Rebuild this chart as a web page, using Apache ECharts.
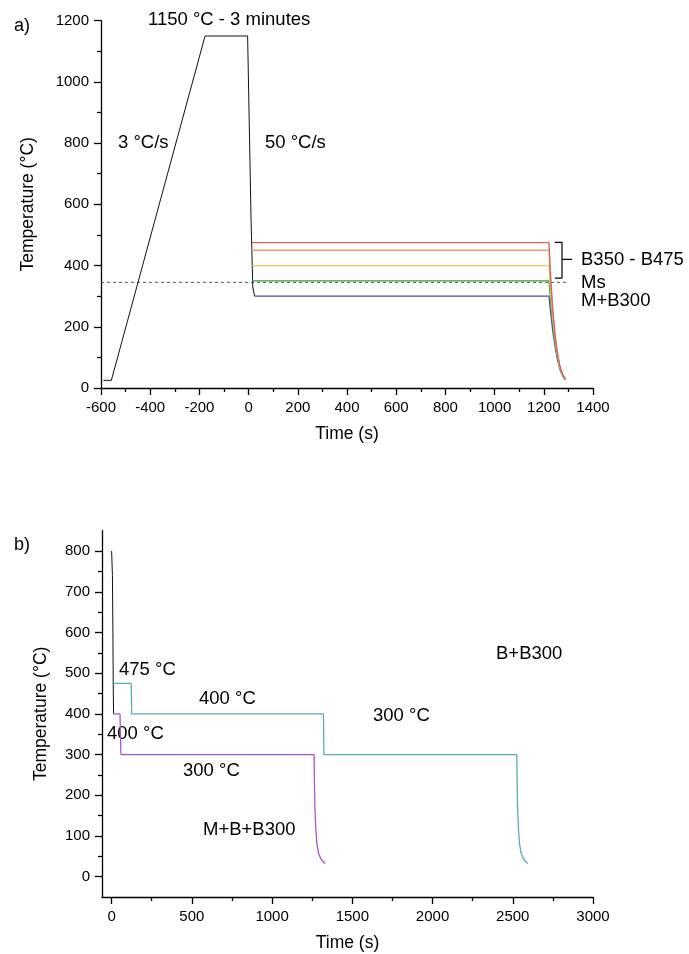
<!DOCTYPE html>
<html><head><meta charset="utf-8">
<script src="https://cdn.jsdelivr.net/npm/echarts@6/dist/echarts.min.js"></script>
<style>html,body{margin:0;padding:0;background:#fff}#c{width:689px;height:954px}</style>
</head><body><div id="c"></div>
<script>
// ---------- Panel a) data ----------
const aBlackT = [-590, -558, -177, -4, 10, 17, 24];
const aBlackV = [25, 25, 1150, 1150, 550, 330, 300];
const aNames = ['B300', 'B350', 'B400', 'B450', 'B475'];
const aColors = ['#4a4ab8', '#3a9a3a', '#d8d44a', '#e2a672', '#d46060'];
const aHoldStart = [24, 15, 14, 12, 12];
const aHoldEnd = 1221;
const aCoolT = [1228, 1236, 1245, 1255, 1266, 1278, 1288];
const aCoolB300 = [245, 190, 140, 95, 60, 38, 27];
const aCoolB350 = [280, 210, 150, 100, 63, 39, 27];
const aCoolB400 = [310, 230, 165, 108, 66, 40, 28];
const aCoolB450 = [345, 250, 175, 112, 68, 41, 28];
const aCoolB475 = [360, 260, 180, 115, 70, 42, 28];
const aHoldV = [300, 350, 400, 450, 475];
const aCool = [aCoolB300, aCoolB350, aCoolB400, aCoolB450, aCoolB475];
const aMsT = [-600, 1302];
const aMsV = [345, 345];
const aBracketT = [1245, 1274, 1274, 1245];
const aBracketV = [476, 476, 359, 359];
const aBracketMidT = [1274, 1315];
const aBracketMidV = [420, 420];

// ---------- Panel b) data ----------
const bBlackT = [0, 5, 8, 10, 12];
const bBlackV = [800, 740, 600, 475, 400];
const bTealT = [5, 122, 125, 1320, 1323, 2525, 2527, 2530, 2535, 2542, 2552, 2565, 2580, 2594];
const bTealV = [475, 475, 400, 400, 300, 300, 230, 170, 120, 81, 58, 45, 37, 32];
const bPurpleT = [10, 52, 58, 1262, 1264, 1267, 1272, 1279, 1289, 1302, 1317, 1331];
const bPurpleV = [400, 400, 300, 300, 230, 170, 120, 81, 58, 45, 37, 32];
const bXTicks = [0, 500, 1000, 1500, 2000, 2500, 3000];
const bXMinor = [250, 750, 1250, 1750, 2250, 2750];
const bYTicks = [0, 100, 200, 300, 400, 500, 600, 700, 800];
const bYMinor = [50, 150, 250, 350, 450, 550, 650, 750];

const FONT = '"Liberation Sans", Arial, sans-serif';
const zip = (t, v) => t.map((x, i) => [x, v[i]]);
const LS = {color: '#000', width: 1.3};
const plain = v => String(v);

function baseAxis(extra) {
  return Object.assign({
    type: 'value',
    axisLine: {show: true, onZero: false, lineStyle: LS},
    axisTick: {show: true, inside: false, length: 7, lineStyle: LS},
    minorTick: {show: true, splitNumber: 2, length: 4, lineStyle: LS},
    splitLine: {show: false},
    minorSplitLine: {show: false},
    axisLabel: {color: '#000', fontSize: 15, fontFamily: FONT, margin: 12, formatter: plain},
    nameLocation: 'middle',
    nameTextStyle: {color: '#000', fontSize: 17.5, fontFamily: FONT}
  }, extra);
}

const series = [];
const lineS = (data, color, xi, yi, width, extra) => Object.assign({
  type: 'line', data: data, xAxisIndex: xi, yAxisIndex: yi, showSymbol: false,
  symbol: 'none', silent: true, animation: false,
  lineStyle: {color: color, width: width || 1.2}
}, extra || {});

// panel a
series.push(lineS(zip(aMsT, aMsV), '#666', 0, 0, 1, {lineStyle: {color: '#555', width: 1, type: [3, 3]}}));
series.push(lineS(zip(aBlackT, aBlackV), '#111', 0, 0, 1));
aNames.forEach((n, i) => {
  const t = [aHoldStart[i], aHoldEnd].concat(aCoolT);
  const v = [aHoldV[i], aHoldV[i]].concat(aCool[i]);
  series.push(lineS(zip(t, v), aColors[i], 0, 0, 1.3, {name: n}));
});
series.push(lineS(zip(aBracketT, aBracketV), '#000', 0, 0, 1.2));
series.push(lineS(zip(aBracketMidT, aBracketMidV), '#000', 0, 0, 1.2));

// panel b
series.push(lineS(zip(bBlackT, bBlackV), '#111', 1, 1, 1));
series.push(lineS(zip(bTealT, bTealV), '#5aabab', 1, 1, 1.3));
series.push(lineS(zip(bPurpleT, bPurpleV), '#a855c8', 1, 1, 1.3));

const txt = (s, x, y, size) => ({
  type: 'text', x: x, y: y, silent: true,
  style: {text: s, fill: '#000', font: (size || 18.5) + 'px ' + FONT, verticalAlign: 'middle', align: 'left'}
});

const option = {
  animation: false,
  backgroundColor: '#fff',
  grid: [
    {left: 101, right: 96, top: 20.7, height: 367.3},
    {left: 102, right: 96, top: 530.7, height: 366.3}
  ],
  xAxis: [
    baseAxis({gridIndex: 0, min: -600, max: 1400, interval: 200, name: 'Time (s)', nameGap: 37}),
    baseAxis({gridIndex: 1, min: -60, max: 3000, name: 'Time (s)', nameGap: 37,
      axisTick: {show: true, inside: false, length: 7, lineStyle: LS, customValues: bXTicks},
      axisLabel: {color: '#000', fontSize: 15, fontFamily: FONT, margin: 12, formatter: plain, customValues: bXTicks},
      minorTick: {show: false}}),
    baseAxis({gridIndex: 1, min: -60, max: 3000, position: 'bottom',
      axisLine: {show: false, onZero: false},
      axisTick: {show: true, inside: false, length: 4, lineStyle: LS, customValues: bXMinor},
      axisLabel: {show: false}, minorTick: {show: false}})
  ],
  yAxis: [
    baseAxis({gridIndex: 0, min: 0, max: 1200, interval: 200, name: 'Temperature (°C)', nameGap: 64}),
    baseAxis({gridIndex: 1, min: -50, max: 850, name: 'Temperature (°C)', nameGap: 52,
      axisTick: {show: true, inside: false, length: 7, lineStyle: LS, customValues: bYTicks},
      axisLabel: {color: '#000', fontSize: 15, fontFamily: FONT, margin: 12, formatter: plain, customValues: bYTicks},
      minorTick: {show: false}}),
    baseAxis({gridIndex: 1, min: -50, max: 850, position: 'left',
      axisLine: {show: false, onZero: false},
      axisTick: {show: true, inside: false, length: 4, lineStyle: LS, customValues: bYMinor},
      axisLabel: {show: false}, minorTick: {show: false}})
  ],
  series: series,
  graphic: [
    txt('a)', 14, 26, 18),
    txt('1150 °C - 3 minutes', 148, 20),
    txt('3 °C/s', 118, 143),
    txt('50 °C/s', 265, 143),
    txt('B350 - B475', 581, 260),
    txt('Ms', 581, 283),
    txt('M+B300', 581, 301),
    txt('b)', 14, 545, 18),
    txt('475 °C', 119, 670),
    txt('400 °C', 199, 699),
    txt('400 °C', 107, 734),
    txt('300 °C', 183, 771),
    txt('300 °C', 373, 716),
    txt('B+B300', 496, 654),
    txt('M+B+B300', 203, 830)
  ]
};
echarts.init(document.getElementById('c'), null, {renderer: 'canvas'}).setOption(option);
</script></body></html>
